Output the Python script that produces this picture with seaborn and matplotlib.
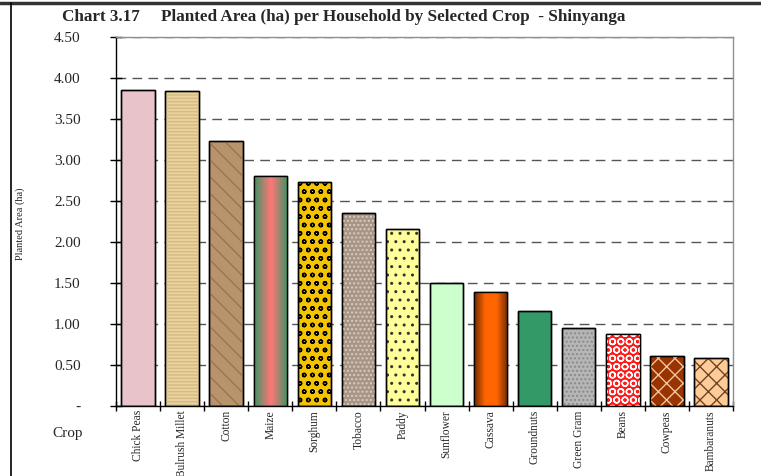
import numpy as np
import pandas as pd
import matplotlib
matplotlib.use("Agg")
import matplotlib.pyplot as plt
import seaborn as sns
from matplotlib.colors import LinearSegmentedColormap
from matplotlib.patches import Rectangle
from matplotlib.lines import Line2D

# Planted area (ha) per household
crops = ["Chick Peas", "Bulrush Millet", "Cotton", "Maize", "Sorghum", "Tobacco",
         "Paddy", "Sunflower", "Cassava", "Groundnuts", "Green Gram", "Beans",
         "Cowpeas", "Bambaranuts"]
area = [3.85, 3.84, 3.23, 2.80, 2.73, 2.35, 2.16, 1.50, 1.39, 1.16, 0.95, 0.88, 0.61, 0.59]

# fill styles roughly imitating the Excel textures
bar_colors = ["#E8C3CA", "#E9D39E", "#B8946C", "#FF7777", "#F5C400", "#A89585",
              "#FFFF99", "#CCFFCC", "#FF6600", "#339966", "#B6B6B6", "#FF1A1A",
              "#993300", "#FFCC99"]
hatches = [None, "-----", "\\\\", None, "oo", "....", "..", None, None, None,
           "....", "OO", "xx", "xx"]
hatch_colors = [None, "#D6BA82", "#9A7650", None, "black", "#D8CCC0", "#333333",
                None, None, None, "#8A8A8A", "white", "#EFC7A0", "#6E4420"]
gradients = {"Maize": ["#3C9466", "#FF7777", "#3C9466"],
             "Cassava": ["#702A00", "#FF6600", "#FF6600", "#702A00"]}

sns.set_style("white")
plt.rcParams["font.family"] = ["Liberation Serif", "DejaVu Serif"]
plt.rcParams["hatch.linewidth"] = 1.0

fig = plt.figure(figsize=(7.61, 4.76), dpi=100)
ax = fig.add_axes([116 / 761, 1 - 406 / 476, 617 / 761, 369 / 476])

df = pd.DataFrame({"Crop": crops, "Area": area})
sns.barplot(data=df, x="Crop", y="Area", hue="Crop", palette=bar_colors,
            legend=False, width=0.76, edgecolor="black", linewidth=1.0,
            saturation=1, ax=ax)

bars = sorted(ax.patches, key=lambda p: p.get_x())
for crop, bar, h, hc in zip(crops, bars, hatches, hatch_colors):
    x0, y0 = bar.get_x(), bar.get_y()
    w, ht = bar.get_width(), bar.get_height()
    z = bar.get_zorder()
    if crop in gradients:
        cmap = LinearSegmentedColormap.from_list(crop, gradients[crop])
        im = ax.imshow(np.linspace(0, 1, 256).reshape(1, -1), cmap=cmap,
                       extent=[x0, x0 + w, y0, y0 + ht], aspect="auto",
                       interpolation="bicubic", zorder=z + 0.1)
        im.set_clip_path(bar)
    if h:
        ax.add_patch(Rectangle((x0, y0), w, ht, facecolor="none", edgecolor=hc,
                               hatch=h, linewidth=0, zorder=z + 0.2))
    # outline back on top
    ax.add_patch(Rectangle((x0, y0), w, ht, facecolor="none", edgecolor="black",
                           linewidth=1.0, zorder=z + 0.3))

ax.set_xlim(-0.5, 13.5)
ax.set_ylim(0, 4.5)
ax.set_aspect("auto")

yt = np.arange(0, 4.51, 0.5)
ax.set_yticks(yt)
ax.set_yticklabels(["-"] + [f"{v:.2f}" for v in yt[1:]])
ax.tick_params(axis="y", direction="inout", length=9, width=1, pad=21,
               labelsize=11, left=True, color="black")

ax.set_xticks(range(len(crops)))
ax.set_xticklabels(crops, rotation=90, fontsize=8.3)
ax.set_xticks(np.arange(-0.5, len(crops), 1), minor=True)
ax.tick_params(axis="x", which="major", length=0, pad=3, bottom=True)
ax.tick_params(axis="x", which="minor", direction="inout", length=7, width=1,
               bottom=True, color="black")
ax.set_xlabel("")
ax.set_ylabel("")

ax.yaxis.grid(True, color="#555555", linestyle=(0, (7, 4.5)), linewidth=1)
ax.set_axisbelow(True)
for side in ["left", "bottom"]:
    ax.spines[side].set_color("black")
    ax.spines[side].set_linewidth(1)
for side in ["top", "right"]:
    ax.spines[side].set_color("#909090")
    ax.spines[side].set_linewidth(1)

fig.text(62 / 761, 1 - 17 / 476,
         "Chart 3.17     Planted Area (ha) per Household by Selected Crop  - Shinyanga",
         fontweight="bold", fontsize=12.3, ha="left", va="center")
fig.text(68 / 761, 1 - 434 / 476, "Crop", fontsize=11, ha="center", va="center")
fig.text(20 / 761, 1 - 224 / 476, "Planted Area (ha)", fontsize=7.5, rotation=90,
         ha="center", va="center")

# outer frame of the original sheet
fig.add_artist(Line2D([0, 1], [1 - 2.5 / 476] * 2, color="#333333", linewidth=2.5,
                      transform=fig.transFigure))
fig.add_artist(Line2D([11 / 761] * 2, [0, 1 - 2.5 / 476], color="black", linewidth=1.2,
                      transform=fig.transFigure))

fig.savefig("out.png", dpi=100)
